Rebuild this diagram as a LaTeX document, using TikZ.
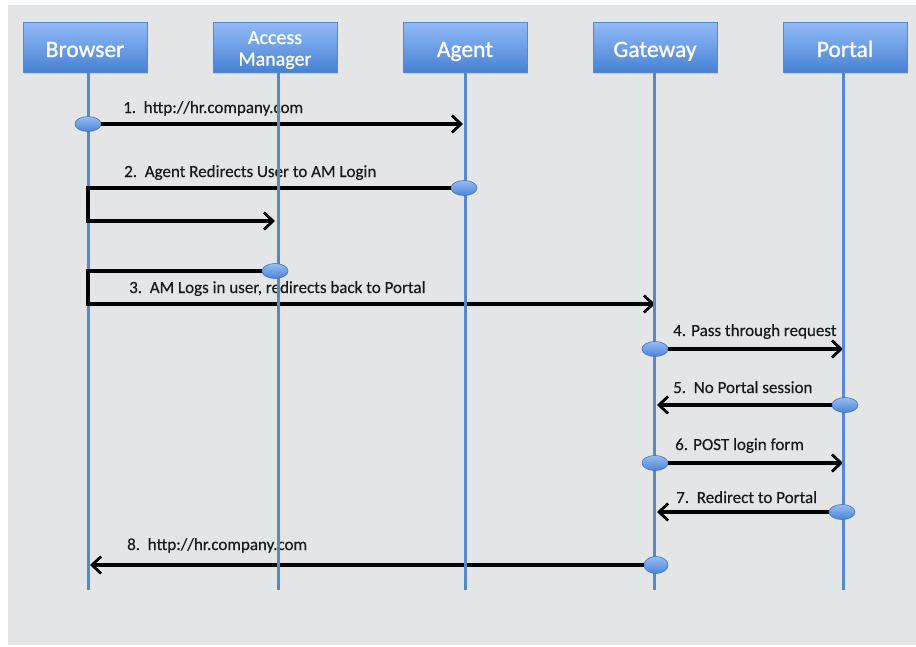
\documentclass[tikz,border=0pt]{standalone}
\usepackage{fontspec}
\setmainfont{Carlito}
\newfontfamily\headfont{Carlito}[FakeBold=1.1]
\newfontfamily\msgfont{Carlito}[FakeBold=0.35]
\usetikzlibrary{arrows.meta,shadows,shapes.geometric}
\definecolor{bg}{RGB}{228,229,231}
\definecolor{boxtop}{RGB}{146,187,247}
\definecolor{boxbot}{RGB}{72,130,212}
\definecolor{boxedge}{RGB}{86,134,204}
\definecolor{life}{RGB}{86,136,202}
\definecolor{dottop}{RGB}{150,190,246}
\definecolor{dotbot}{RGB}{76,132,212}
\definecolor{dotedge}{RGB}{70,114,186}
\definecolor{labtext}{RGB}{25,25,25}
\pgfdeclarelayer{back}
\pgfdeclarelayer{mid}
\pgfsetlayers{back,mid,main}
% participant caption, baseline set 10pt below the box centre
\newcommand{\headline}[1]{\raisebox{-10pt}[0pt][0pt]{#1}}
\begin{document}
\begin{tikzpicture}[x=1pt,y=-1pt,
  actor/.style={rectangle, minimum width=124pt, minimum height=50pt,
    top color=boxtop, bottom color=boxbot, draw=boxedge, line width=0.8pt,
    text=white, font=\headfont\fontsize{23.5}{26}\selectfont, inner sep=0pt,
    drop shadow={shadow xshift=1pt,shadow yshift=-2pt,opacity=0.25}},
  lifeline/.style={draw=life, line width=3pt},
  dot/.style={ellipse, minimum width=26pt, minimum height=15pt, inner sep=0pt,
    top color=dottop, bottom color=dotbot, draw=dotedge, line width=0.6pt},
  msg/.style={draw=black, line width=3.2pt, line join=miter,
    -{Straight Barb[length=9pt,width=17pt,line width=2.8pt]}},
  lab/.style={anchor=base west, inner sep=0pt, text=labtext,
    font=\msgfont\fontsize{17}{19}\selectfont}]

\useasboundingbox (0,0) rectangle (916,646);

% page and backdrop
\begin{pgfonlayer}{back}
  \fill[white] (0,0) rectangle (916,646);
  \fill[bg] (8,5) rectangle (916,645);
\end{pgfonlayer}

% participants
\node[actor] (browser) at (85,47) {\headline{Browser}};
\node[actor, font=\headfont\fontsize{20}{21.5}\selectfont] (am) at (275,47)
  {\raisebox{3pt}[0pt][0pt]{\begin{tabular}[t]{@{}c@{}}Access\\Manager\end{tabular}}};
\node[actor] (agent) at (465,47) {\headline{Agent}};
\node[actor] (gateway) at (655,47) {\headline{Gateway}};
\node[actor] (portal) at (845,47) {\headline{Portal}};

% lifeline ends
\coordinate (brB) at (88,590);
\coordinate (amB) at (278,590);
\coordinate (agB) at (465,590);
\coordinate (gwB) at (654,590);
\coordinate (poB) at (843,590);

\begin{pgfonlayer}{back}
  \draw[lifeline] (browser.south -| brB) -- (brB);
\end{pgfonlayer}
\begin{pgfonlayer}{mid}
  \draw[lifeline] (am.south -| amB) -- (amB);
  \draw[lifeline] (agent.south -| agB) -- (agB);
  \draw[lifeline] (gateway.south -| gwB) -- (gwB);
  \draw[lifeline] (portal.south -| poB) -- (poB);
\end{pgfonlayer}

% activation points
\node[dot] (e1) at (88,124) {};
\node[dot] (e2) at (464,188) {};
\node[dot] (e3) at (275,271) {};
\node[dot] (e4) at (655,349) {};
\node[dot] (e5) at (845,405) {};
\node[dot] (e6) at (655,463) {};
\node[dot] (e7) at (842,512) {};
\node[dot, minimum width=24pt, minimum height=17pt] (e8) at (656,565) {};

% route corners
\coordinate (r2) at (275,221);
\coordinate (r3) at (655,304);

\begin{pgfonlayer}{back}
  \draw[msg, shorten >=2pt] (e1.east) -- (e1 -| agB);
  \draw[msg] (e2.west) -- (e2 -| brB) -- (brB |- r2) -- (r2);
  \draw[msg] (e3.west) -- (e3 -| brB) -- (brB |- r3) -- (r3);
  \draw[msg] (e4.east) -- (e4 -| poB);
  \draw[msg, shorten >=3pt] (e5.west) -- (e5 -| gwB);
  \draw[msg] (e6.east) -- (e6 -| poB);
  \draw[msg, shorten >=3pt] (e7.west) -- (e7 -| gwB);
  \draw[msg, shorten >=2pt] (e8.west) -- (e8 -| brB);

  \node[lab] (l1) at (123,113) {1.~~http://hr.company.com};
  \node[lab] (l2) at (124,177) {2.~~Agent Redirects User to AM Login};
  \node[lab] (l3) at (129,293) {3.~~AM Logs in user, redirects back to Portal};
  \node[lab] (l4) at (673,336) {4. Pass through request};
  \node[lab] (l5) at (673,393) {5.~~No Portal session};
  \node[lab] (l6) at (675,450) {6. POST login form};
  \node[lab] (l7) at (676,503) {7.~~Redirect to Portal};
  \node[lab] (l8) at (127,550) {8.~~http://hr.company.com};
\end{pgfonlayer}
\end{tikzpicture}
\end{document}
